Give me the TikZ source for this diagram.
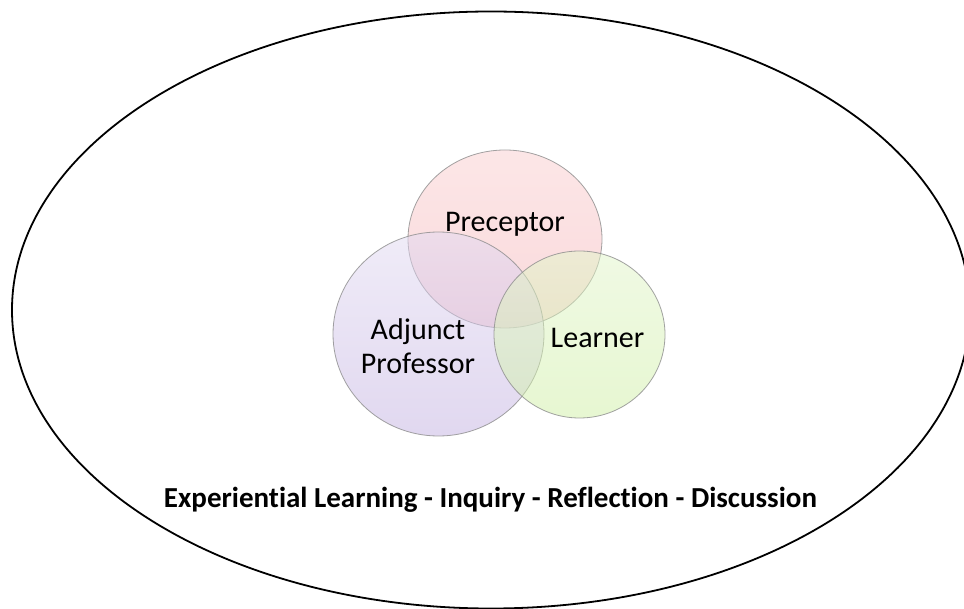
\documentclass[tikz,border=0pt]{standalone}
\usepackage{fontspec}
\setmainfont{Carlito}[Ligatures=NoCommon]
\usetikzlibrary{shapes.geometric}
\usetikzlibrary{positioning}
\definecolor{preceptorTop}{RGB}{251, 207, 208}
\definecolor{preceptorBottom}{RGB}{245, 180, 185}
\definecolor{adjunctTop}{RGB}{226, 218, 242}
\definecolor{adjunctBottom}{RGB}{196, 178, 226}
\definecolor{learnerTop}{RGB}{226, 246, 202}
\definecolor{learnerBottom}{RGB}{208, 240, 165}
\definecolor{vennLine}{RGB}{140, 140, 140}

\begin{document}
\begin{tikzpicture}[x=1pt, y=1pt,
      venn/.style={ellipse, draw=vennLine, line width=0.8pt, draw opacity=0.8,
                   fill opacity=0.5, inner sep=0pt, outer sep=0pt},
      label/.style={font=\fontsize{30}{34}\selectfont, align=center}]
      \fill [white] (0,0) rectangle (964,608);
      \useasboundingbox (0,0) rectangle (964,608);
      \begin{scope}
        \clip (0,0) rectangle (964,608);
        \draw [line width=1.8pt] (491,298) ellipse [x radius=479, y radius=298.5];
      \end{scope}

      \node [venn, minimum width=194pt, minimum height=178pt,
             top color=preceptorTop, bottom color=preceptorBottom]
            (preceptor) at (505,369) {};
      \node [venn, minimum width=211pt, minimum height=204pt,
             top color=adjunctTop, bottom color=adjunctBottom]
            (adjunct) at (438.5,274) {};
      \node [venn, minimum width=171pt, minimum height=167pt,
             top color=learnerTop, bottom color=learnerBottom]
            (learner) at (579.5,273.5) {};

      \node [label, anchor=base] (preceptorText) at (505,376) {Preceptor};
      \node [label] (adjunctText) at (418,262) {Adjunct\\Professor};
      \node [label, anchor=base] (learnerText) at (597.5,260) {Learner};

      \node [anchor=base, font=\fontsize{29}{34}\selectfont\bfseries]
            (themes) at (490.5,100)
            {Experiential Learning - Inquiry - Reflection - Discussion};
    \end{tikzpicture}
\end{document}
